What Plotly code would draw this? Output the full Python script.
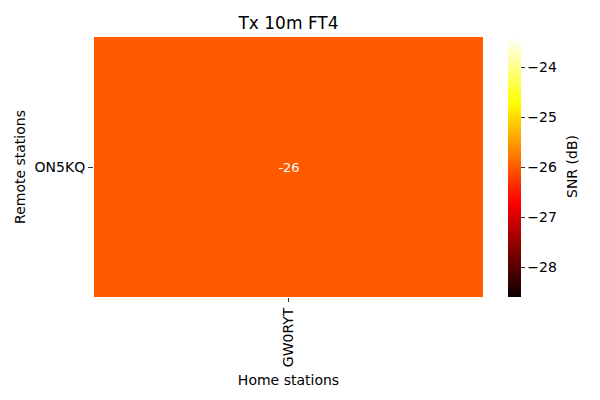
import plotly.graph_objects as go

home_stations = ["GW0RYT"]
remote_stations = ["ON5KQ"]
snr_values = [[-26]]
cbar_ticks = [-28, -27, -26, -25, -24]

# matplotlib "hot" colormap
hot = [
    [0.0, "rgb(11,0,0)"],
    [0.365079, "rgb(255,0,0)"],
    [0.746032, "rgb(255,255,0)"],
    [1.0, "rgb(255,255,255)"],
]

vmin = snr_values[0][0] * 1.1
vmax = snr_values[0][0] * 0.9

font = "DejaVu Sans"
fs = 14

fig = go.Figure(go.Heatmap(
    z=snr_values,
    x=home_stations,
    y=remote_stations,
    zmin=vmin, zmax=vmax,
    colorscale=hot,
    text=[[str(v) for v in row] for row in snr_values],
    texttemplate="%{text}",
    textfont=dict(color="white", size=13, family=font),
    colorbar=dict(
        x=1.064, xanchor="left", xref="paper", xpad=0,
        y=0, yanchor="bottom", len=1, lenmode="fraction", ypad=0,
        thickness=13, outlinewidth=0,
        tickvals=cbar_ticks,
        ticks="outside", ticklen=4, tickwidth=1, tickcolor="#333",
        tickfont=dict(family=font, size=fs, color="black"),
    ),
))

fig.add_annotation(
    text="SNR (dB)", textangle=-90, showarrow=False,
    xref="paper", yref="paper", x=(572 - 94) / 389, y=0.5,
    xanchor="center", yanchor="middle",
    font=dict(family=font, size=fs, color="black"),
)

fig.update_layout(
    width=600, height=400,
    margin=dict(l=94, r=117, t=37, b=103),
    paper_bgcolor="white", plot_bgcolor="white",
    title=dict(text="Tx 10m FT4", x=(94 + 389 / 2) / 600, xanchor="center",
               y=1 - 23 / 400, yanchor="middle",
               font=dict(family=font, size=17, color="black")),
    font=dict(family=font, color="black"),
)
fig.update_xaxes(
    title=dict(text="Home stations", font=dict(family=font, size=fs), standoff=9),
    tickangle=-90, ticks="outside", ticklen=4, tickcolor="#333",
    tickfont=dict(family=font, size=fs), showgrid=False, zeroline=False, showline=False,
)
fig.update_yaxes(
    title=dict(text="Remote stations", font=dict(family=font, size=fs), standoff=5),
    ticks="outside", ticklen=5, tickcolor="#333",
    tickfont=dict(family=font, size=fs), showgrid=False, zeroline=False, showline=False,
)

fig.write_html("out.html")
